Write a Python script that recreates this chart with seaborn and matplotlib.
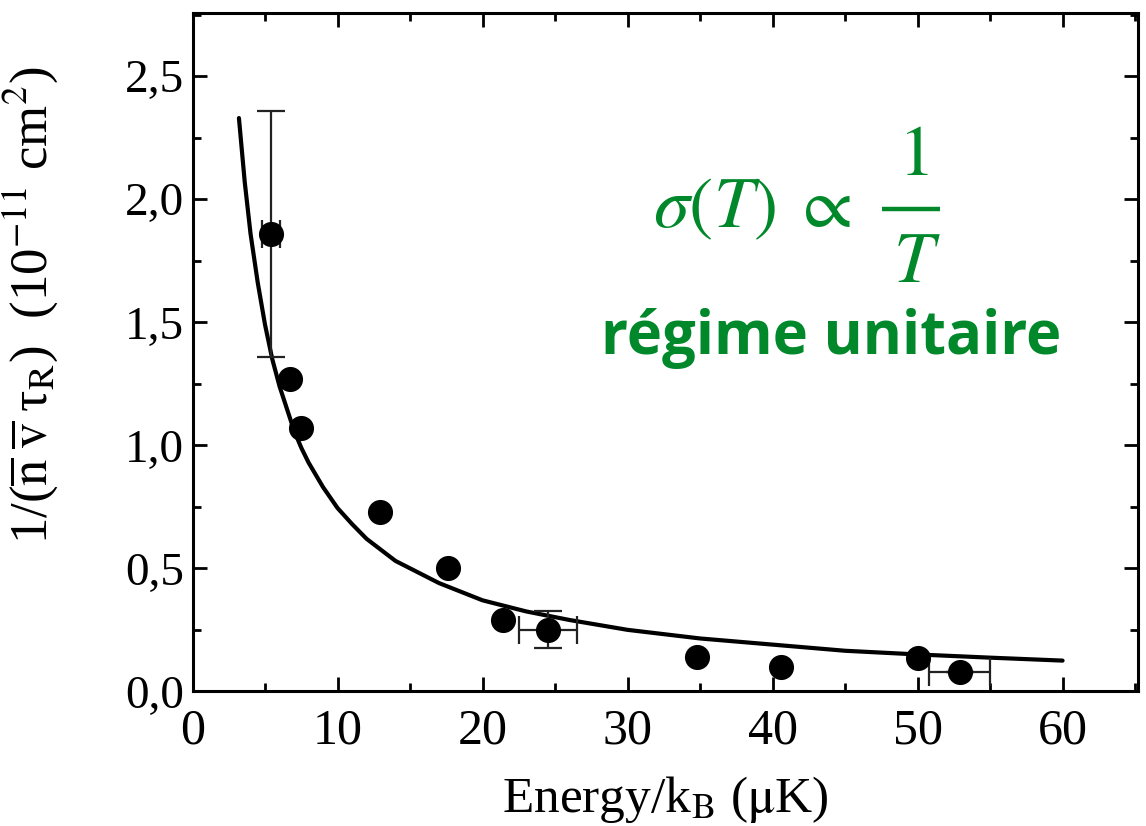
import numpy as np
import pandas as pd
import matplotlib
matplotlib.use("Agg")
import matplotlib.pyplot as plt
from matplotlib.ticker import MultipleLocator, FuncFormatter
import seaborn as sns

# measured points (energy in uK, 1/(n v tau) in 1e-11 cm^2)
energy = [5.4, 6.7, 7.5, 12.9, 17.6, 21.4, 24.5, 34.8, 40.6, 50.0, 52.9]
sigma = [1.86, 1.27, 1.07, 0.73, 0.50, 0.29, 0.25, 0.14, 0.10, 0.135, 0.08]
x_err = [0.6, 0, 0, 0, 0, 0, 2.0, 0, 0, 0, 2.1]
y_err = [0.50, 0, 0, 0, 0, 0, 0.075, 0, 0, 0, 0]

# fitted 1/T curve
fit_x = [3.2, 3.6, 4.0, 4.5, 5.0, 5.5, 6.0, 6.5, 7.0, 7.5, 8.0, 9.0, 10.0,
         11.0, 12.0, 13.0, 14.0, 15.0, 17.0, 20.0, 23.0, 26.0, 30.0, 35.0,
         40.0, 45.0, 50.0, 55.0, 60.0]
fit_y = [2.33, 2.07, 1.86, 1.66, 1.49, 1.35, 1.24, 1.15, 1.06, 0.99, 0.93,
         0.83, 0.745, 0.68, 0.62, 0.575, 0.53, 0.50, 0.44, 0.37, 0.325, 0.29,
         0.25, 0.215, 0.19, 0.165, 0.15, 0.137, 0.125]

pts = pd.DataFrame({"E": energy, "s": sigma, "xe": x_err, "ye": y_err})
fit = pd.DataFrame({"E": fit_x, "s": fit_y})

sns.set_theme(style="ticks", rc={"axes.edgecolor": "black", "xtick.color": "black",
                                 "ytick.color": "black", "text.color": "black",
                                 "axes.labelcolor": "black"})
plt.rcParams["font.family"] = ["Liberation Serif", "DejaVu Serif"]
plt.rcParams["mathtext.fontset"] = "stix"

fig = plt.figure(figsize=(11.46, 8.26), dpi=100)
ax = fig.add_axes([0.168, 0.163, 0.825, 0.821])

sns.lineplot(data=fit, x="E", y="s", ax=ax, color="black", lw=3.0, sort=False)
err = pts[(pts.xe > 0) | (pts.ye > 0)]
ax.errorbar(err.E, err.s, xerr=err.xe, yerr=err.ye, fmt="none",
            ecolor="#222222", elinewidth=1.6, capsize=10, capthick=1.6)
sns.scatterplot(data=pts, x="E", y="s", ax=ax, color="black", s=280,
                edgecolor="black", zorder=5)

ax.set_xlim(0, 65.2)
ax.set_ylim(0, 2.756)
ax.xaxis.set_major_locator(MultipleLocator(10))
ax.xaxis.set_minor_locator(MultipleLocator(5))
ax.yaxis.set_major_locator(MultipleLocator(0.5))
ax.yaxis.set_minor_locator(MultipleLocator(0.25))
ax.yaxis.set_major_formatter(FuncFormatter(lambda v, p: f"{v:.1f}".replace(".", ",")))
ax.tick_params(which="both", direction="in", top=True, right=True, width=2)
ax.tick_params(which="major", length=10)
ax.tick_params(which="minor", length=6)
ax.tick_params(axis="x", labelsize=36, pad=12)
ax.tick_params(axis="y", labelsize=34, pad=6)
for s in ax.spines.values():
    s.set_linewidth(2.2)

ax.set_xlabel(r"Energy/k$_\mathrm{B}$ ($\mathrm{\mu}$K)", fontsize=37, labelpad=14)
ax.set_ylabel(r"1/($\overline{\mathrm{n}}\;\overline{\mathrm{v}}\;$τ$_\mathrm{R}$)  (10$^{-11}$ cm$^2$)",
              fontsize=38)
ax.yaxis.set_label_coords(-0.14, 0.57)

# green annotation: sigma(T) ∝ 1/T, fraction built by hand for wider spacing
green = "#00882B"
ax.text(0.487, 0.684, r"$\sigma(T)\;\propto$", transform=ax.transAxes,
        color=green, fontsize=52, ha="left", va="baseline")
ax.text(0.762, 0.761, r"$1$", transform=ax.transAxes,
        color=green, fontsize=52, ha="center", va="baseline")
ax.text(0.766, 0.603, r"$T$", transform=ax.transAxes,
        color=green, fontsize=52, ha="center", va="baseline")
ax.plot([0.7296, 0.791], [0.712, 0.712], transform=ax.transAxes,
        color=green, lw=3.2, solid_capstyle="butt")
ax.text(0.675, 0.52, "régime unitaire", transform=ax.transAxes, color=green,
        fontsize=43, fontweight="bold", family="Open Sans", ha="center", va="center")

fig.savefig("out.png", dpi=100)
